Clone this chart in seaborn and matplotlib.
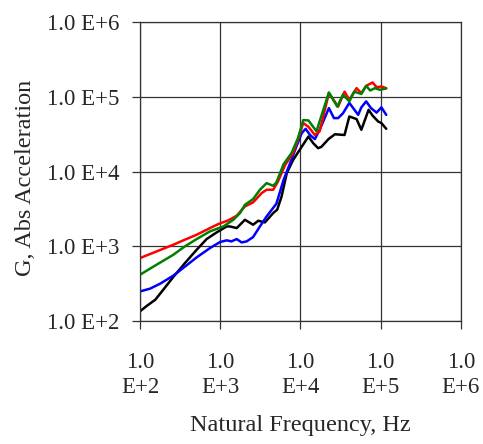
import numpy as np
import pandas as pd
import matplotlib
matplotlib.use("Agg")
import matplotlib.pyplot as plt
import matplotlib.ticker as mticker
import seaborn as sns

# -----------------------------------
# Data
# -----------------------------------
red_f = [100, 161, 260, 347, 508, 745, 946, 1259, 1603, 2032, 2570, 3281,
         3784, 4571, 5248, 6457, 8128, 9333, 10839, 12589, 15136, 17378,
         22646, 29512, 35481, 40738, 50119, 57544, 66069, 79433, 89125,
         102329, 117490]
red_g = [697, 855, 1050, 1202, 1429, 1754, 1986, 2223, 2564, 3420, 3873, 5152,
         5715, 5715, 7379, 12303, 17783, 26915, 44668, 39811, 30903, 34674,
         112202, 74131, 117490, 91201, 130918, 112202, 140605, 155955, 134896,
         138038, 130918]

green_f = [100, 161, 260, 363, 508, 745, 1096, 1455, 1762, 2032, 2570, 3126,
           3784, 4571, 5012, 6166, 7762, 9333, 10839, 12589, 15849, 22646,
           28840, 33884, 40738, 46774, 57544, 66069, 74131, 85114, 97724,
           117490]
green_g = [417, 568, 771, 1000, 1250, 1585, 1845, 2265, 2786, 3597, 4285, 5715,
           7015, 6457, 7161, 12589, 17783, 28184, 48978, 48417, 34674, 114815,
           74131, 107152, 87096, 117490, 109648, 140605, 121899, 130918,
           124451, 129718]

blue_f = [100, 133, 178, 260, 380, 508, 745, 993, 1202, 1380, 1603, 1849, 2138,
          2570, 3126, 3784, 5012, 6166, 7413, 8913, 10375, 11614, 13183, 15136,
          17378, 22646, 26182, 29512, 33884, 40738, 52481, 57544, 66069, 75858,
          89125, 102329, 117490]
blue_g = [249, 271, 316, 405, 556, 711, 948, 1140, 1202, 1164, 1250, 1127, 1164,
          1330, 1845, 2512, 3715, 7762, 12882, 21677, 32734, 37411, 30903, 27227,
          36308, 70795, 51999, 51999, 60256, 83176, 57544, 72444, 87096, 70795,
          61660, 72444, 57544]

black_f = [100, 120, 155, 195, 260, 363, 508, 676, 902, 1202, 1318, 1603, 2032,
           2570, 2979, 3606, 4571, 5129, 5821, 6761, 8128, 9772, 12589, 14454,
           16596, 18197, 22387, 26915, 35481, 40738, 50119, 57544, 70795, 79433,
           93325, 102329, 117490]
black_g = [135, 158, 193, 263, 389, 597, 899, 1250, 1535, 1845, 1845, 1754,
           2265, 1945, 2198, 2089, 2786, 3090, 4656, 9550, 14388, 19498, 29512,
           23988, 20606, 21380, 27227, 31623, 30903, 54702, 50466, 36308, 67143,
           56234, 46774, 44668, 37411]

series = ["black", "blue", "red", "green"]
colors = {"black": "#000000", "blue": "#0000FF",
          "red": "#FF0000", "green": "#008000"}

frames = []
for name, f, g in [("black", black_f, black_g), ("blue", blue_f, blue_g),
                   ("red", red_f, red_g), ("green", green_f, green_g)]:
    frames.append(pd.DataFrame({"freq": f, "acc": g, "run": name}))
data = pd.concat(frames, ignore_index=True)

tick_vals = [1e2, 1e3, 1e4, 1e5, 1e6]
x_tick_labels = ["1.0\nE+2", "1.0\nE+3", "1.0\nE+4", "1.0\nE+5", "1.0\nE+6"]
y_tick_labels = ["1.0 E+2", "1.0 E+3", "1.0 E+4", "1.0 E+5", "1.0 E+6"]

# -----------------------------------
# Plot
# -----------------------------------
sns.set_style("white")
plt.rcParams["font.family"] = ["Liberation Serif", "DejaVu Serif"]

fig = plt.figure(figsize=(4.83, 4.44), dpi=100)
ax = fig.add_axes([0.290, 0.277, 0.664, 0.673])

for name in series:
    sub = data[data["run"] == name]
    sns.lineplot(data=sub, x="freq", y="acc", color=colors[name],
                 linewidth=1.8, sort=False, estimator=None, ax=ax,
                 legend=False)

ax.set_xscale("log")
ax.set_yscale("log")
ax.set_xlim(1e2, 1e6)
ax.set_ylim(1e2, 1e6)

ax.xaxis.set_major_locator(mticker.FixedLocator(tick_vals))
ax.yaxis.set_major_locator(mticker.FixedLocator(tick_vals))
ax.xaxis.set_minor_locator(mticker.NullLocator())
ax.yaxis.set_minor_locator(mticker.NullLocator())
ax.set_xticklabels(x_tick_labels, fontsize=16.5, linespacing=1.3)
ax.set_yticklabels(y_tick_labels, fontsize=16.5)

ax.grid(True, color="#333333", linewidth=0.9)
for s in ax.spines.values():
    s.set_color("#333333")
    s.set_linewidth(0.9)

ax.tick_params(axis="both", which="major", direction="out", length=6,
               width=0.9, color="#333333", left=True, bottom=True)
ax.tick_params(axis="y", pad=9)
ax.tick_params(axis="x", pad=16)

ax.set_xlabel("Natural Frequency, Hz", fontsize=17.5)
ax.set_ylabel("G, Abs Acceleration", fontsize=17.5)
ax.xaxis.set_label_coords(0.5, -0.315)
ax.yaxis.set_label_coords(-0.325, 0.48)

fig.savefig("out.png", dpi=100)
